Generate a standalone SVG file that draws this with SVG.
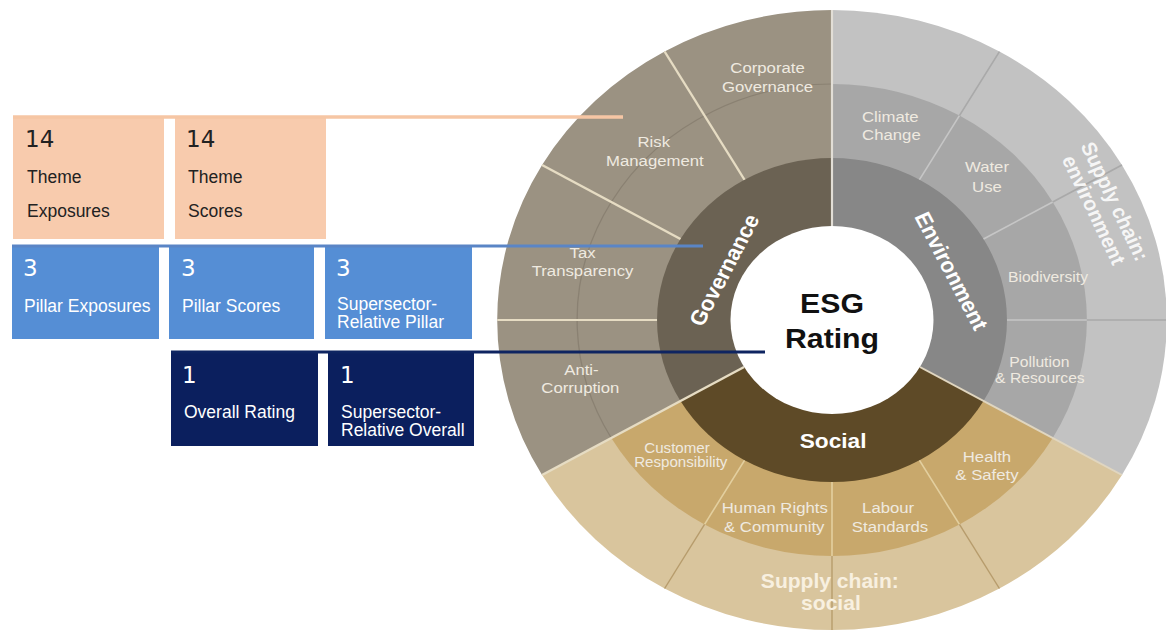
<svg xmlns="http://www.w3.org/2000/svg" width="1166" height="632" viewBox="0 0 1166 632">
  <style>
    .num{font-family:"DejaVu Sans",Verdana,sans-serif;font-size:23px}
    .lbl{font-family:"Liberation Sans",Arial,sans-serif;font-size:17.5px}
    .ink{fill:#222222}
    .wht{fill:#ffffff}
    .peach{fill:#F8CBAD}
    .blue{fill:#558ED5}
    .navy{fill:#0B1F5E}
    .theme{font-family:"Liberation Sans",Arial,sans-serif;font-size:15.5px;fill:#efeae0;text-anchor:middle}
    .sm{font-size:14.5px}
    .xs{font-size:14px}
    .pillar{font-family:"Liberation Sans",Arial,sans-serif;font-weight:bold;font-size:21px;fill:#ffffff;text-anchor:middle}
    .chain{font-family:"Liberation Sans",Arial,sans-serif;font-weight:bold;font-size:19.5px;text-anchor:middle}
    .core{font-family:"Liberation Sans",Arial,sans-serif;font-weight:bold;font-size:28px;fill:#111111;text-anchor:middle}
    .govline{stroke:#e6dcc3;stroke-width:2.2;fill:none}
    .envin{stroke:#c6c6c6;stroke-width:1.5}
    .envout{stroke:#a9a9a9;stroke-width:1.5}
    .socin{stroke:#e3cf9f;stroke-width:1.5}
    .socout{stroke:#b79c6c;stroke-width:1.3}
  </style>

  <rect width="1166" height="632" fill="#ffffff"/>

  <!-- rating wheel: drawn in a local frame centred on the hub, slightly wider than tall -->
  <g id="wheel" transform="translate(832,320) scale(1.08,1)">
    <!-- outer ring: supply chain + governance themes -->
    <g id="ring-outer">
      <path d="M0 0 L-268.47 155 A310 310 0 0 1 0 -310 Z" fill="#9b9282"/>
      <path d="M0 0 L0 -310 A310 310 0 0 1 268.47 155 Z" fill="#c2c2c2"/>
      <path d="M0 0 L268.47 155 A310 310 0 0 1 -268.47 155 Z" fill="#d9c59d"/>
    </g>
    <!-- theme ring -->
    <g id="ring-themes">
      <path d="M0 0 L0 -236 A236 236 0 0 1 204.38 118 Z" fill="#a7a7a7"/>
      <path d="M0 0 L204.38 118 A236 236 0 0 1 -204.38 118 Z" fill="#c8a86c"/>
      <path d="M-204.38 118 A236 236 0 0 1 0 -236" fill="none" stroke="#8a8172" stroke-width="1.2"/>
    </g>
    <!-- pillar ring -->
    <g id="ring-pillars">
      <path d="M0 0 L-140.3 81 A162 162 0 0 1 0 -162 Z" fill="#6b6253"/>
      <path d="M0 0 L0 -162 A162 162 0 0 1 140.3 81 Z" fill="#878787"/>
      <path d="M0 0 L140.3 81 A162 162 0 0 1 -140.3 81 Z" fill="#5e4a27"/>
    </g>

    <!-- sector dividers -->
    <g id="dividers">
      <line class="govline" x1="-81" y1="-140.3" x2="-155" y2="-268.47"/>
      <line class="govline" x1="-140.3" y1="-81" x2="-268.47" y2="-155"/>
      <line class="govline" x1="-162" y1="0" x2="-310" y2="0" stroke="#cfc5b1"/>
      <line x1="0" y1="-94" x2="0" y2="-310" stroke="#e2ded6" stroke-width="2"/>
      <line class="govline" x1="-81.41" y1="47" x2="-268.47" y2="155"/>
      <line x1="81.41" y1="47" x2="268.47" y2="155" stroke="#e0d6c0" stroke-width="2"/>
      <line class="envin" x1="81" y1="-140.3" x2="118" y2="-204.38"/>
      <line class="envout" x1="118" y1="-204.38" x2="155" y2="-268.47"/>
      <line class="envin" x1="140.3" y1="-81" x2="204.38" y2="-118"/>
      <line class="envout" x1="204.38" y1="-118" x2="268.47" y2="-155"/>
      <line class="envin" x1="162" y1="0" x2="236" y2="0"/>
      <line class="envout" x1="236" y1="0" x2="310" y2="0"/>
      <line class="socin" x1="81" y1="140.3" x2="118" y2="204.38"/>
      <line class="socout" x1="118" y1="204.38" x2="155" y2="268.47"/>
      <line class="socin" x1="0" y1="162" x2="0" y2="236"/>
      <line class="socout" x1="0" y1="236" x2="0" y2="310"/>
      <line class="socin" x1="-81" y1="140.3" x2="-118" y2="204.38"/>
      <line class="socout" x1="-118" y1="204.38" x2="-155" y2="268.47"/>
    </g>

    <!-- hub -->
    <g id="hub">
      <circle r="94" fill="#ffffff"/>
      <text class="core" x="0" y="-7">ESG</text>
      <text class="core" x="0" y="28">Rating</text>
    </g>

    <!-- pillar labels -->
    <g id="pillar-labels">
      <text class="pillar" transform="translate(-100,-50) rotate(-64)" y="7.5">Governance</text>
      <text class="pillar" transform="translate(110.8,-49.2) rotate(64)" y="7.5">Environment</text>
      <text class="pillar" x="1" y="128">Social</text>
    </g>

    <!-- theme labels -->
    <g id="governance-themes">
      <text class="theme" x="-59.7" y="-247">Corporate</text>
      <text class="theme" x="-59.7" y="-228">Governance</text>
      <text class="theme" x="-165" y="-173">Risk</text>
      <text class="theme" x="-164" y="-154">Management</text>
      <text class="theme" x="-231" y="-62">Tax</text>
      <text class="theme" x="-231" y="-44">Transparency</text>
      <text class="theme" x="-232" y="55">Anti-</text>
      <text class="theme" x="-233" y="73">Corruption</text>
    </g>
    <g id="environment-themes">
      <text class="theme" x="54" y="-198">Climate</text>
      <text class="theme" x="55" y="-180">Change</text>
      <text class="theme" x="143.5" y="-148">Water</text>
      <text class="theme" x="143.5" y="-128">Use</text>
      <text class="theme sm" x="200" y="-38">Biodiversity</text>
      <text class="theme sm" x="192" y="47">Pollution</text>
      <text class="theme sm" x="192.5" y="63">&amp; Resources</text>
    </g>
    <g id="social-themes">
      <text class="theme xs" x="-143.5" y="133">Customer</text>
      <text class="theme xs" x="-140" y="147">Responsibility</text>
      <text class="theme" x="-53" y="193">Human Rights</text>
      <text class="theme" x="-53.5" y="212">&amp; Community</text>
      <text class="theme" x="52" y="193">Labour</text>
      <text class="theme" x="53.7" y="212">Standards</text>
      <text class="theme" x="143.5" y="142">Health</text>
      <text class="theme" x="143.5" y="160">&amp; Safety</text>
    </g>

    <!-- supply chain labels -->
    <g id="supply-chain-labels">
      <g transform="translate(252.4,-114.5) rotate(66)">
        <text class="chain" y="-3.7" fill="#f6f6f6">Supply chain:</text>
        <text class="chain" y="17.7" fill="#f6f6f6">environment</text>
      </g>
      <text class="chain" x="-2" y="268" fill="#f8f0e0">Supply chain:</text>
      <text class="chain" x="-1" y="290" fill="#f8f0e0">social</text>
    </g>
  </g>

  <!-- score tiles -->
  <g id="theme-exposures">
    <rect class="peach" x="13" y="117" width="151" height="122"/>
    <text class="num ink" x="25" y="147">14</text>
    <text class="lbl ink" x="27" y="183">Theme</text>
    <text class="lbl ink" x="27" y="217">Exposures</text>
  </g>
  <g id="theme-scores">
    <rect class="peach" x="175" y="117" width="151" height="122"/>
    <text class="num ink" x="186" y="147">14</text>
    <text class="lbl ink" x="188" y="183">Theme</text>
    <text class="lbl ink" x="188" y="217">Scores</text>
  </g>
  <g id="pillar-exposures">
    <rect class="blue" x="12" y="246" width="147" height="93"/>
    <text class="num wht" x="23" y="276">3</text>
    <text class="lbl wht" x="24" y="312">Pillar Exposures</text>
  </g>
  <g id="pillar-scores">
    <rect class="blue" x="169" y="246" width="145" height="93"/>
    <text class="num wht" x="181" y="276">3</text>
    <text class="lbl wht" x="182" y="312">Pillar Scores</text>
  </g>
  <g id="relative-pillar">
    <rect class="blue" x="325" y="246" width="147" height="93"/>
    <text class="num wht" x="336" y="276">3</text>
    <text class="lbl wht" x="337" y="310">Supersector-<tspan x="337" dy="18">Relative Pillar</tspan></text>
  </g>
  <g id="overall-rating">
    <rect class="navy" x="171" y="352" width="147" height="94"/>
    <text class="num wht" x="182" y="383">1</text>
    <text class="lbl wht" x="184" y="418">Overall Rating</text>
  </g>
  <g id="relative-overall">
    <rect class="navy" x="328" y="352" width="146" height="94"/>
    <text class="num wht" x="340" y="383">1</text>
    <text class="lbl wht" x="341" y="418">Supersector-<tspan x="341" dy="18">Relative Overall</tspan></text>
  </g>

  <!-- leader lines from each tile row into the wheel -->
  <g id="connectors" fill="none">
    <line x1="13" y1="117" x2="623" y2="117" stroke="#F6C6A4" stroke-width="3.5"/>
    <line x1="12" y1="246" x2="703" y2="246" stroke="#5a85c6" stroke-width="3"/>
    <line x1="171" y1="352" x2="765" y2="352" stroke="#0E2461" stroke-width="3"/>
  </g>
</svg>
